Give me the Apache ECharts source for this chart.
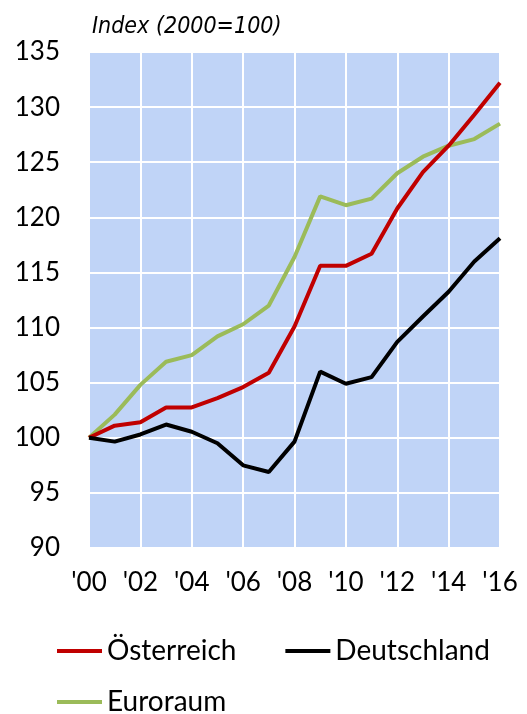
<!DOCTYPE html>
<html>
<head>
<meta charset="utf-8">
<script src="https://cdn.jsdelivr.net/npm/echarts@6/dist/echarts.min.js"></script>
<style>
html,body{margin:0;padding:0;background:#fff;}
#chart{width:527px;height:714px;}
</style>
</head>
<body>
<div id="chart"></div>
<script>
// Jahre (Kategorien)
var years = ["'00","'01","'02","'03","'04","'05","'06","'07","'08","'09","'10","'11","'12","'13","'14","'15","'16"];
// Index 2000=100
var oesterreich = [100, 101.1, 101.4, 102.75, 102.75, 103.6, 104.6, 105.9, 110.1, 115.6, 115.6, 116.7, 120.8, 124.1, 126.5, 129.3, 132.2];
var deutschland = [100, 99.65, 100.3, 101.2, 100.55, 99.5, 97.5, 96.9, 99.65, 106.0, 104.9, 105.5, 108.7, 111.0, 113.25, 116.0, 118.1];
var euroraum = [100, 102.1, 104.8, 106.9, 107.5, 109.2, 110.3, 112.0, 116.4, 121.9, 121.1, 121.7, 124.0, 125.5, 126.5, 127.1, 128.5];
var yMin = 90, yMax = 135, yStep = 5;

var chart = echarts.init(document.getElementById('chart'));
var font = 'Lato, "Open Sans", sans-serif';

function line(name, data, color){
    return {name: name, type: 'line', data: data, symbol: 'none',
        lineStyle: {color: color, width: 4}, itemStyle: {color: color}, z: 3};
}

var option = {
    animation: false,
    title: {
        text: 'Index (2000=100)', left: 87, top: 11,
        textStyle: {fontFamily: '"DejaVu Sans Condensed", "Liberation Sans", sans-serif', fontStyle: 'italic',
            fontWeight: 'normal', fontSize: 23, color: '#000'}
    },
    grid: {left: 89, right: 27, top: 52, bottom: 166, show: true,
        backgroundColor: '#C0D4F7', borderWidth: 0},
    legend: [{
        data: ['Österreich', 'Deutschland'], left: 52, top: 632, itemGap: 49,
        icon: 'rect', itemWidth: 45, itemHeight: 4,
        textStyle: {fontFamily: font, fontSize: 28, color: '#000'}
    }, {
        data: ['Euroraum'], left: 52, top: 683,
        icon: 'rect', itemWidth: 45, itemHeight: 4,
        textStyle: {fontFamily: font, fontSize: 28, color: '#000'}
    }],
    xAxis: {
        type: 'category', data: years, boundaryGap: false,
        axisLine: {show: true, lineStyle: {color: '#ffffff', width: 2}},
        axisTick: {show: false},
        axisLabel: {interval: 1, margin: 22, fontFamily: font, fontSize: 26, color: '#000'},
        splitLine: {show: true, interval: 1, lineStyle: {color: '#ffffff', width: 2}}
    },
    yAxis: {
        type: 'value', min: yMin, max: yMax, interval: yStep,
        axisLine: {show: false}, axisTick: {show: false},
        axisLabel: {margin: 29, fontFamily: font, fontSize: 26, color: '#000'},
        splitLine: {show: true, lineStyle: {color: '#ffffff', width: 2}}
    },
    series: [
        line('Euroraum', euroraum, '#9BBB59'),
        line('Österreich', oesterreich, '#C00000'),
        line('Deutschland', deutschland, '#000000')
    ]
};
chart.setOption(option);
</script>
</body>
</html>
